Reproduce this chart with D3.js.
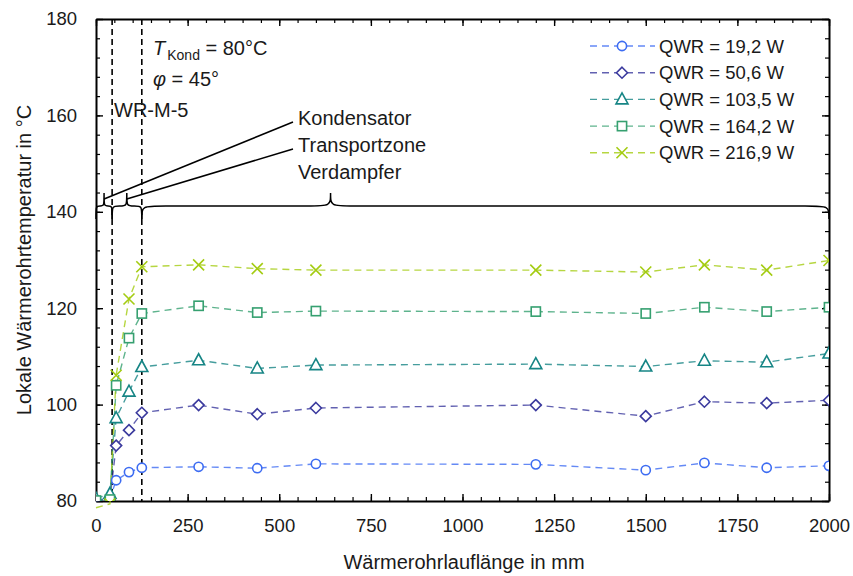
<!DOCTYPE html>
<html><head><meta charset="utf-8">
<script src="https://cdn.jsdelivr.net/npm/d3@7"></script>
<style>
body{margin:0;background:#fff;}
text{font-family:"Liberation Sans",Arial,sans-serif;fill:#1a1a1a;}
</style></head>
<body><svg id="c" width="853" height="576"></svg>
<script>
// ---- data ----
const positions = [0, 38, 55, 90, 125, 280, 440, 600, 1200, 1500, 1660, 1830, 2000];
const seriesNames = ["QWR = 19,2 W", "QWR = 50,6 W", "QWR = 103,5 W", "QWR = 164,2 W", "QWR = 216,9 W"];
const q19  = [80.2, 80.5, 84.3, 86.0, 86.9, 87.1, 86.8, 87.7, 87.6, 86.4, 87.9, 86.9, 87.3];
const q50  = [80.0, 80.4, 91.5, 94.7, 98.3, 99.9, 98.0, 99.3, 99.9, 97.6, 100.6, 100.3, 100.9];
const q103 = [80.5, 81.5, 97.2, 102.7, 107.8, 109.2, 107.5, 108.2, 108.4, 107.9, 109.1, 108.8, 110.6];
const q164 = [80.1, 80.3, 104.0, 113.8, 118.9, 120.5, 119.1, 119.4, 119.3, 118.9, 120.2, 119.3, 120.2];
const q216 = [78.6, 79.4, 106.1, 121.9, 128.6, 129.0, 128.2, 127.9, 127.9, 127.5, 129.0, 127.9, 129.9];
const xTicks = [0, 250, 500, 750, 1000, 1250, 1500, 1750, 2000];
const yTicks = [80, 100, 120, 140, 160, 180];
const zoneBounds = [44, 125];           // dashed zone borders (mm)
const braces = [[0, 44, 22], [44, 125, 84], [125, 2000, 640]]; // start, end, tip (mm)
const zoneNames = ["Kondensator", "Transportzone", "Verdampfer"];

const allSeries = [q19, q50, q103, q164, q216];
const colors = ["#3d6cf2", "#3b3a9e", "#168585", "#36a070", "#a4cc12"];
const shapes = ["circle", "diamond", "triangle", "square", "cross"];

const svg = d3.select("#c");
const L = 96, R = 829, T = 19, B = 501;
const x = d3.scaleLinear().domain([0, 2000]).range([L, R]);
const y = d3.scaleLinear().domain([80, 180]).range([B, T]);

svg.append("defs").append("clipPath").attr("id","pc")
  .append("rect").attr("x", L).attr("y", T).attr("width", R-L).attr("height", B-T);

// axes: minor + major ticks inward on all four sides
function axisSet(axisFn, scale, transform, minorVals, majorVals, labels, pad) {
  const gmin = svg.append("g").attr("transform", transform)
    .call(axisFn(scale).tickValues(minorVals).tickSize(-4).tickFormat(""));
  gmin.select(".domain").remove();
  gmin.selectAll("line").attr("stroke", "#000").attr("stroke-width", 1.2);
  const g = svg.append("g").attr("transform", transform)
    .call(axisFn(scale).tickValues(majorVals).tickSize(-7).tickSizeOuter(0).tickPadding(pad)
      .tickFormat(labels ? d3.format("d") : ""));
  g.select(".domain").attr("stroke", "#000").attr("stroke-width", 2);
  g.selectAll("line").attr("stroke", "#000").attr("stroke-width", 1.4);
  g.selectAll("text").attr("font-size", 18.5).attr("font-family", "Liberation Sans, Arial, sans-serif").attr("fill", "#1a1a1a");
  return g;
}
const xMinor = d3.range(0, 2001, 50), yMinor = d3.range(80, 181, 4);
axisSet(d3.axisBottom, x, `translate(0,${B})`, xMinor, xTicks, true, 18);
axisSet(d3.axisTop, x, `translate(0,${T})`, xMinor, xTicks, false, 4);
axisSet(d3.axisLeft, y, `translate(${L},0)`, yMinor, yTicks, true, 19);
axisSet(d3.axisRight, y, `translate(${R},0)`, yMinor, yTicks, false, 4);

// axis titles
svg.append("text").attr("x", 464).attr("y", 569).attr("text-anchor", "middle")
  .attr("font-size", 20).text("Wärmerohrlauflänge in mm");
svg.append("text").attr("transform", "translate(31,260) rotate(-90)").attr("text-anchor", "middle")
  .attr("font-size", 20).text("Lokale Wärmerohrtemperatur in °C");

// dashed zone borders
zoneBounds.forEach(v => {
  svg.append("line").attr("x1", x(v)).attr("x2", x(v)).attr("y1", T).attr("y2", B)
    .attr("stroke", "#000").attr("stroke-width", 1.6).attr("stroke-dasharray", "6,4");
});

// braces
const yb = 219, y0 = 206, yt = 193;
braces.forEach(([a, b, t]) => {
  const x0 = x(a), x1 = x(b), xt = x(t);
  const r1 = Math.min(24, (xt - x0) / 2), r2 = Math.min(24, (x1 - xt) / 2);
  const p = `M${x0},${yb} C${x0},${y0} ${x0},${y0} ${x0 + r1},${y0} L${xt - r1},${y0} C${xt},${y0} ${xt},${y0} ${xt},${yt} `
    + `C${xt},${y0} ${xt},${y0} ${xt + r2},${y0} L${x1 - r2},${y0} C${x1},${y0} ${x1},${y0} ${x1},${yb}`;
  svg.append("path").attr("d", p).attr("fill", "none").attr("stroke", "#000").attr("stroke-width", 1.5);
});
// leader lines
svg.append("line").attr("x1", x(braces[0][2])).attr("y1", 199).attr("x2", 293).attr("y2", 122).attr("stroke", "#000").attr("stroke-width", 1.5);
svg.append("line").attr("x1", x(braces[1][2])).attr("y1", 199).attr("x2", 293).attr("y2", 149).attr("stroke", "#000").attr("stroke-width", 1.5);
zoneNames.forEach((n, i) => {
  svg.append("text").attr("x", 298).attr("y", 125 + i * 27).attr("font-size", 20).text(n);
});

// annotations
const t1 = svg.append("text").attr("x", 153).attr("y", 55).attr("font-size", 20);
t1.append("tspan").attr("font-style", "italic").text("T");
t1.append("tspan").attr("font-size", 14).attr("dy", 5).attr("dx", 2).text("Kond");
t1.append("tspan").attr("dy", -5).text(" = 80°C");
const t2 = svg.append("text").attr("x", 153).attr("y", 86).attr("font-size", 20);
t2.append("tspan").attr("font-style", "italic").text("φ");
t2.append("tspan").text(" = 45°");
svg.append("text").attr("x", 114).attr("y", 117).attr("font-size", 20).text("WR-M-5");

// marker drawing
function marker(g, shape, cx, cy, col) {
  if (shape === "circle") g.append("circle").attr("cx", cx).attr("cy", cy).attr("r", 4.6);
  else if (shape === "diamond") g.append("path").attr("d", `M${cx},${cy-5.5}L${cx+5.5},${cy}L${cx},${cy+5.5}L${cx-5.5},${cy}Z`);
  else if (shape === "triangle") g.append("path").attr("d", `M${cx},${cy-6.5}L${cx+6},${cy+4.5}L${cx-6},${cy+4.5}Z`);
  else if (shape === "square") g.append("rect").attr("x", cx-4.6).attr("y", cy-4.6).attr("width", 9.2).attr("height", 9.2);
  else if (shape === "cross") g.append("path").attr("d", `M${cx-5.5},${cy-5.5}L${cx+5.5},${cy+5.5}M${cx+5.5},${cy-5.5}L${cx-5.5},${cy+5.5}`);
  g.selectAll("*").attr("fill", shape === "cross" ? "none" : "#fff").attr("stroke", col).attr("stroke-width", 1.6);
}

const line = d3.line().x(d => x(d[0])).y(d => y(d[1]));
allSeries.forEach((vals, i) => {
  const pts = positions.map((p, j) => [p, vals[j]]);
  svg.append("path").attr("d", line(pts)).attr("fill", "none").attr("stroke", colors[i])
    .attr("stroke-opacity", 0.8).attr("stroke-width", 1.4).attr("stroke-dasharray", "7,5");
});
allSeries.forEach((vals, i) => {
  const g = svg.append("g").attr("clip-path", "url(#pc)");
  positions.forEach((p, j) => {
    const mg = g.append("g");
    marker(mg, shapes[i], x(p), y(vals[j]), colors[i]);
  });
});

// legend
seriesNames.forEach((n, i) => {
  const yy = 46 + i * 26.7;
  svg.append("line").attr("x1", 590).attr("x2", 655).attr("y1", yy).attr("y2", yy)
    .attr("stroke", colors[i]).attr("stroke-opacity", 0.8).attr("stroke-width", 1.4).attr("stroke-dasharray", "7,5");
  marker(svg.append("g"), shapes[i], 622, yy, colors[i]);
  svg.append("text").attr("x", 659).attr("y", yy + 6.5).attr("font-size", 18.5).text(n);
});
</script></body></html>
